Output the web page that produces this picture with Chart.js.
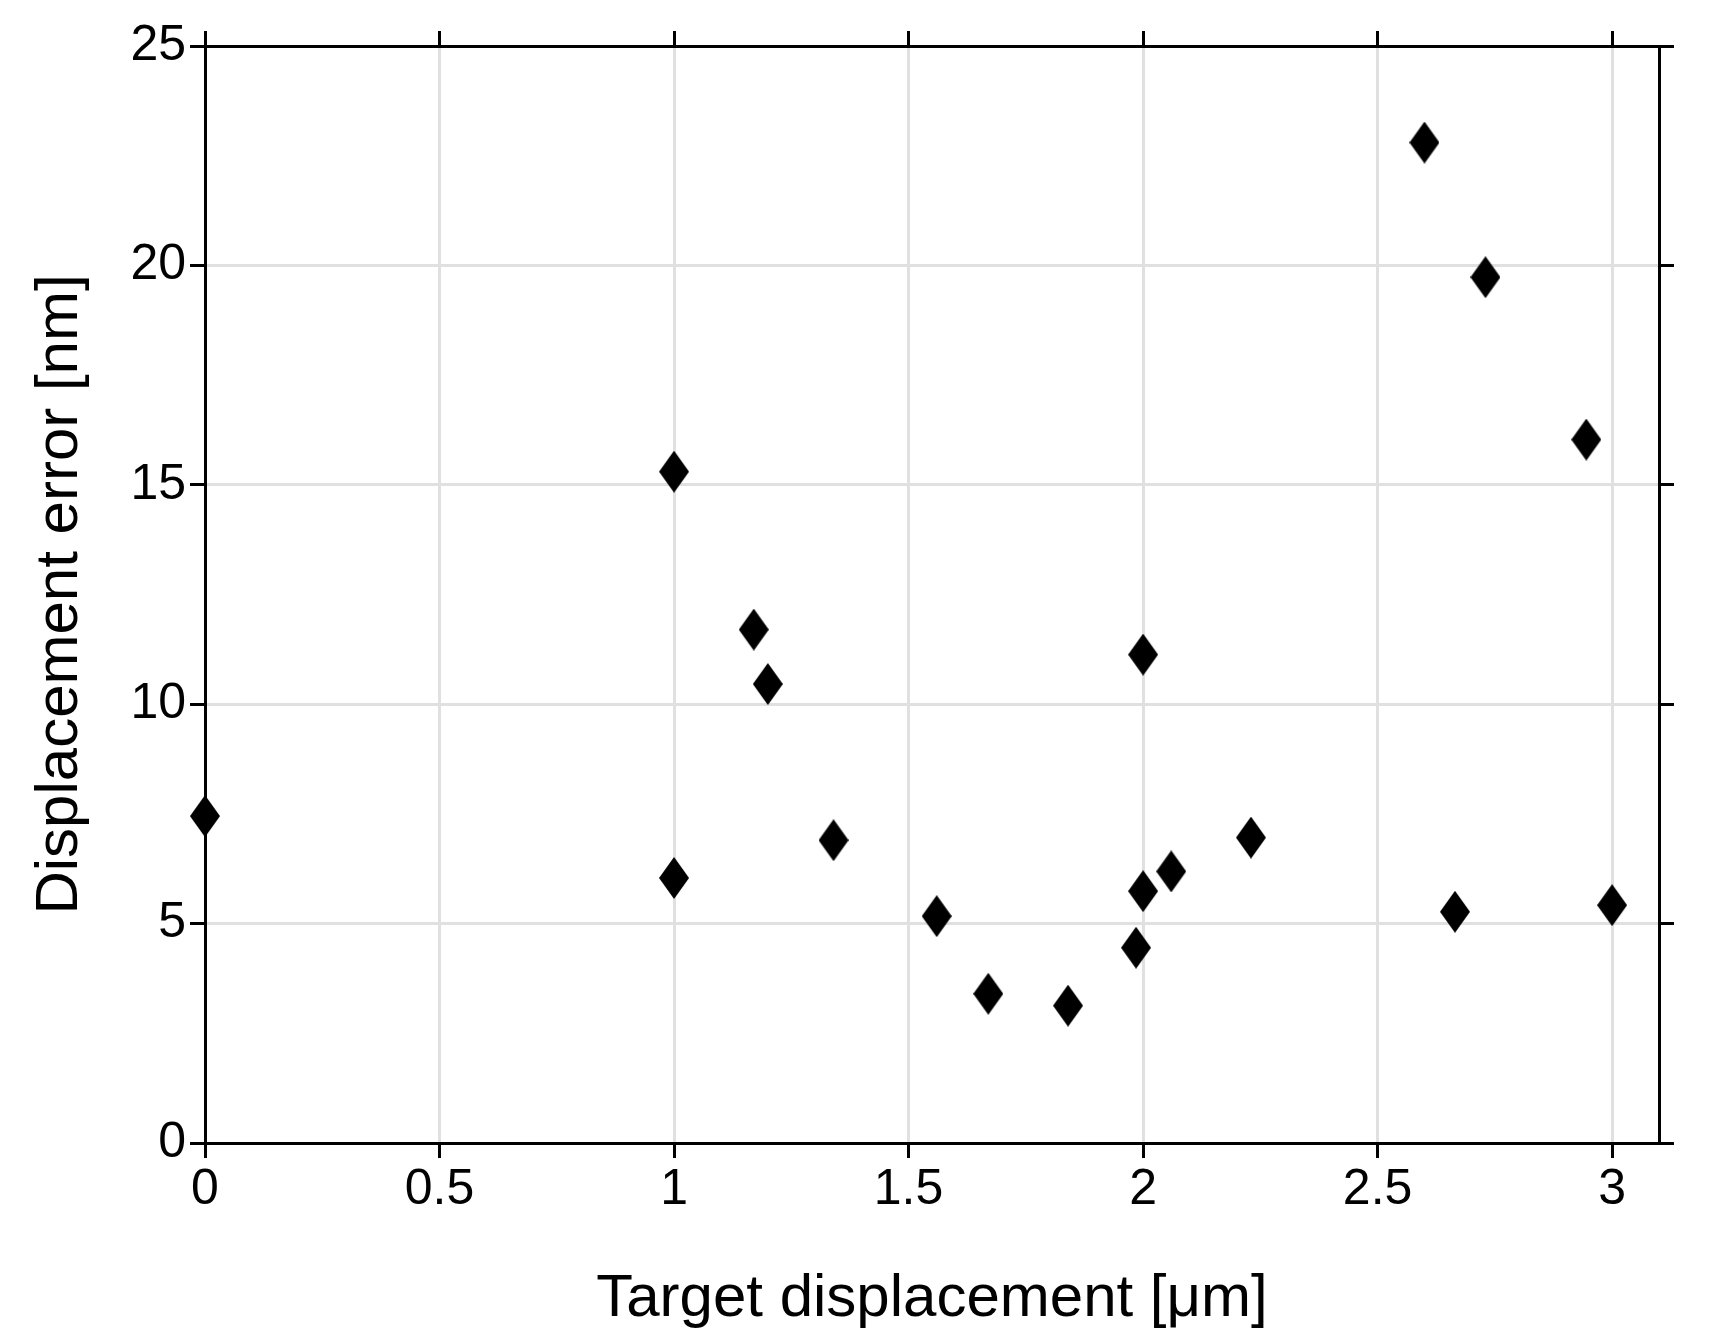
<!DOCTYPE html>
<html>
<head>
<meta charset="UTF-8">
<script src="https://cdn.jsdelivr.net/npm/chart.js@4.4.2/dist/chart.umd.min.js"></script>
<style>
  body { margin: 0; background: #fff; }
  canvas { display: block; }
</style>
</head>
<body>
<canvas id="c" width="1710" height="1339"></canvas>
<script>
const targetUm = [0, 1.0, 1.0, 1.17, 1.2, 1.34, 1.56, 1.67, 1.84, 1.985, 2.0, 2.0, 2.06, 2.23, 2.6, 2.665, 2.73, 2.945, 3.0];
const errorNm = [7.45, 15.3, 6.04, 11.7, 10.46, 6.9, 5.17, 3.4, 3.13, 4.45, 11.13, 5.74, 6.19, 6.96, 22.8, 5.27, 19.73, 16.03, 5.42];
const xTicks = [0, 0.5, 1, 1.5, 2, 2.5, 3];
const yTicks = [0, 5, 10, 15, 20, 25];

// tall diamond marker
const mk = document.createElement('canvas');
mk.width = 30; mk.height = 42;
const g = mk.getContext('2d');
g.fillStyle = '#000';
g.beginPath(); g.moveTo(15, 0); g.lineTo(30, 21); g.lineTo(15, 42); g.lineTo(0, 21); g.closePath(); g.fill();

const fam = 'Liberation Sans, Arial, sans-serif';
const font = { family: fam, size: 50 };
const fixTicks = arr => axis => { axis.ticks = arr.map(v => ({ value: v })); };
const plain = v => String(v);

new Chart(document.getElementById('c'), {
  type: 'scatter',
  data: {
    datasets: [{
      data: targetUm.map((x, i) => ({ x: x, y: errorNm[i] })),
      pointStyle: mk,
      pointRadius: 20,
      clip: false
    }]
  },
  options: {
    responsive: false,
    animation: false,
    layout: { padding: 0 },
    plugins: { legend: { display: false }, tooltip: { enabled: false } },
    scales: {
      x: {
        min: 0, max: 3.1,
        afterBuildTicks: fixTicks(xTicks),
        afterFit: s => { s.height = 196; },
        grid: { color: '#e0e0e0', lineWidth: 3, tickColor: '#000', tickLength: 15 },
        border: { color: '#000', width: 3 },
        ticks: { color: '#000', font: font, padding: 2, maxRotation: 0, callback: plain },
        title: { display: true, text: 'Target displacement [μm]', color: '#000', font: { family: fam, size: 60 }, padding: { top: -4 } }
      },
      x2: {
        position: 'top', min: 0, max: 3.1,
        afterBuildTicks: fixTicks(xTicks),
        afterFit: s => { s.height = 46; },
        grid: { display: true, drawOnChartArea: false, tickColor: '#000', tickLength: 15, lineWidth: 3 },
        border: { color: '#000', width: 3 },
        ticks: { display: false }
      },
      y: {
        min: 0, max: 25,
        afterBuildTicks: fixTicks(yTicks),
        afterFit: s => { s.width = 205; },
        grid: { color: '#e0e0e0', lineWidth: 3, tickColor: '#000', tickLength: 15 },
        border: { color: '#000', width: 3 },
        ticks: { color: '#000', font: font, padding: 4, callback: plain },
        title: { display: true, text: 'Displacement error [nm]', color: '#000', font: { family: fam, size: 60 }, padding: { top: 24, bottom: 0 } }
      },
      y2: {
        position: 'right', min: 0, max: 25,
        afterBuildTicks: fixTicks(yTicks),
        afterFit: s => { s.width = 51; },
        grid: { display: true, drawOnChartArea: false, tickColor: '#000', tickLength: 15, lineWidth: 3 },
        border: { color: '#000', width: 3 },
        ticks: { display: false }
      }
    }
  }
});
</script>
</body>
</html>
